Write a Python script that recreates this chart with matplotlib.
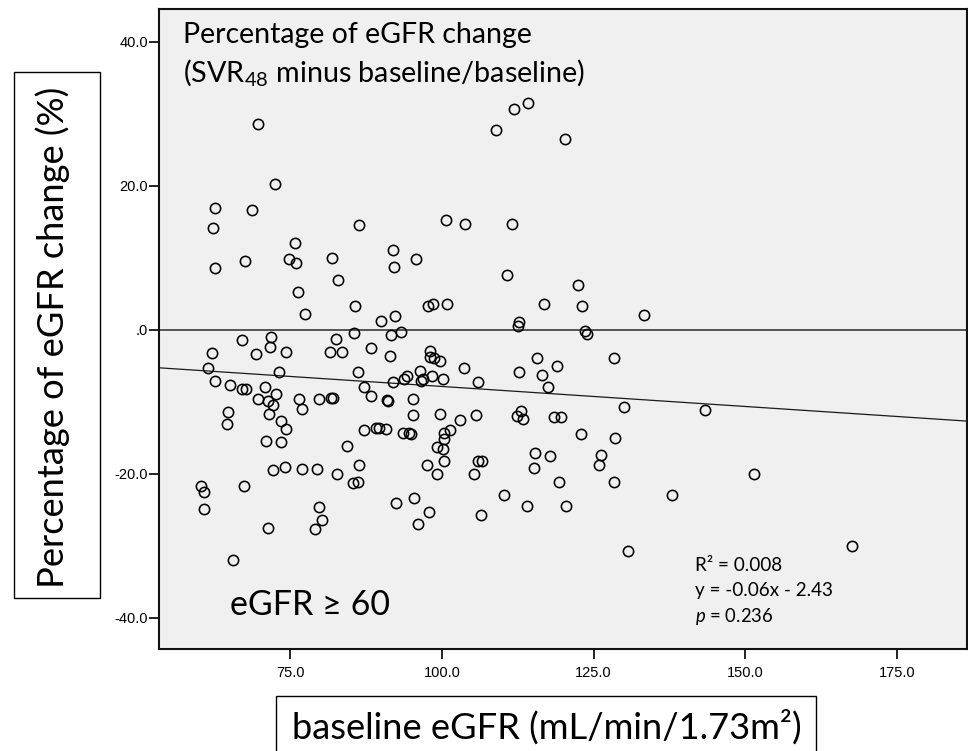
import matplotlib
matplotlib.use('Agg')
import matplotlib.pyplot as plt
from matplotlib.patches import Rectangle
import numpy as np

# ---------------- data ----------------
baseline_egfr = [
    69.7, 72.4, 62.5, 62.3, 62.5, 68.6, 67.6, 75.8, 74.7, 76.0,
    76.2, 77.4, 81.9, 82.8, 86.4, 85.6, 89.9, 92.3, 92.0, 92.1,
    95.7, 100.7, 103.8, 97.7, 98.6, 100.8, 108.9, 111.8, 114.1, 111.6,
    110.7, 116.9, 112.7, 112.5, 120.2, 122.4, 123.1, 133.3, 123.5, 123.9,
    85.5, 91.6, 93.3, 67.0, 71.8, 82.5,
    62.1, 61.4, 62.5, 65.0, 67.0, 67.7, 69.4, 71.6, 74.3, 70.8,
    73.1, 72.7, 69.7, 71.3, 72.1, 71.5, 73.5, 74.3, 64.7, 64.5,
    71.0, 73.5, 60.2, 60.7, 60.7, 67.3, 65.6, 71.4, 72.2, 74.2,
    76.9, 76.5, 76.9, 79.4, 79.7, 81.7, 82.0, 81.6, 83.6, 79.7,
    80.3, 79.0, 82.7, 84.3, 86.4, 85.3, 86.1, 86.1, 87.1, 88.3,
    88.3, 87.2, 89.2, 89.6, 90.7, 91.0, 91.1, 91.5, 91.9, 93.8,
    94.2, 93.5, 94.6, 94.9, 92.4, 95.4, 96.1, 97.9, 95.2, 95.3,
    96.4, 96.5, 96.9, 98.0, 98.1, 98.7, 99.6, 98.4, 100.1, 103.6,
    105.9, 99.7, 103.0, 101.4, 100.4, 100.3, 99.1, 100.2, 100.4, 97.5,
    99.1, 105.6, 105.9, 106.6, 105.3, 106.5, 110.3, 114.0, 112.7, 113.0,
    112.3, 113.3, 115.6, 116.5, 117.4, 119.0, 118.4, 119.6, 115.3, 115.2,
    117.8, 119.3, 120.5, 128.3, 130.0, 143.3, 122.9, 128.5, 126.2, 125.9,
    128.3, 137.9, 151.4, 130.6, 167.6,
]
pct_change = [
    28.6, 20.3, 16.85, 14.1, 8.5, 16.6, 9.6, 12.1, 9.8, 9.3,
    5.2, 2.2, 10.0, 6.9, 14.6, 3.3, 1.2, 1.9, 11.1, 8.7,
    9.8, 15.2, 14.7, 3.3, 3.6, 3.55, 27.7, 30.7, 31.5, 14.7,
    7.6, 3.6, 1.1, 0.5, 26.5, 6.2, 3.3, 2.1, -0.2, -0.6,
    -0.5, -0.7, -0.3, -1.4, -1.0, -1.3,
    -3.2, -5.3, -7.1, -7.7, -8.3, -8.3, -3.4, -2.4, -3.1, -8.0,
    -5.9, -8.9, -9.6, -9.9, -10.5, -11.7, -12.7, -13.8, -11.5, -13.1,
    -15.5, -15.6, -21.7, -22.5, -24.9, -21.7, -32.0, -27.6, -19.5, -19.1,
    -19.3, -9.7, -11.0, -19.3, -9.6, -9.5, -9.5, -3.1, -3.1, -24.6,
    -26.5, -27.7, -20.0, -16.1, -18.8, -21.3, -21.1, -5.9, -8.0, -9.2,
    -2.5, -13.9, -13.6, -13.6, -13.85, -9.8, -9.9, -3.7, -7.3, -6.9,
    -6.5, -14.4, -14.3, -14.5, -24.1, -23.4, -27.0, -25.3, -9.6, -11.8,
    -5.7, -7.2, -6.8, -2.9, -3.8, -4.0, -4.4, -6.4, -6.9, -5.3,
    -7.3, -11.7, -12.6, -13.9, -14.4, -15.2, -16.3, -16.6, -18.2, -18.8,
    -20.1, -11.9, -18.2, -18.3, -20.1, -25.7, -22.9, -24.5, -5.9, -11.3,
    -12.0, -12.4, -4.0, -6.3, -8.0, -5.0, -12.1, -12.1, -17.2, -19.2,
    -17.5, -21.1, -24.5, -4.0, -10.7, -11.2, -14.45, -15.1, -17.45, -18.8,
    -21.1, -23.0, -20.0, -30.8, -30.1,
]
fit_slope = -0.0556
fit_intercept = -2.33

x_ticks = [75, 100, 125, 150, 175]
x_tick_labels = ['75.0', '100.0', '125.0', '150.0', '175.0']
y_ticks = [-40, -20, 0, 20, 40]
y_tick_labels = ['-40.0', '-20.0', '.0', '20.0', '40.0']

title_line1 = 'Percentage of eGFR change'
title_line2 = '(SVR$_{48}$ minus baseline/baseline)'
group_label = 'eGFR \u2265 60'
stat_lines = ['R\u00b2 = 0.008', 'y = -0.06x - 2.43', '$p$ = 0.236']
x_label = 'baseline eGFR (mL/min/1.73m\u00b2)'
y_label = 'Percentage of eGFR change (%)'

# ---------------- figure ----------------
plt.rcParams['mathtext.fontset'] = 'custom'
plt.rcParams['mathtext.rm'] = 'Lato'
plt.rcParams['mathtext.it'] = 'Lato:italic'
plt.rcParams['mathtext.bf'] = 'Lato:bold'

W, H = 968, 751
fig = plt.figure(figsize=(W / 100, H / 100), dpi=100)
fig.patch.set_facecolor('white')


def fx(px):
    return px / W


def fy(py):
    return 1 - py / H


ax_l, ax_r, ax_t, ax_b = 159.3, 966.7, 9.3, 649.3
ax = fig.add_axes([fx(ax_l), fy(ax_b), (ax_r - ax_l) / W, (ax_b - ax_t) / H])
ax.set_facecolor('#f0f0f0')

xlim = (53.4, 186.5)
ylim = (-44.4, 44.5)

ax.axhline(0, color='#2a2a2a', lw=1.1, zorder=2)
xx = np.array(xlim)
ax.plot(xx, fit_slope * xx + fit_intercept, color='#1a1a1a', lw=0.9, zorder=2)
ax.plot(baseline_egfr, pct_change, linestyle='none', marker='o', ms=7.4,
        mfc='none', mec='black', mew=1.15, zorder=3)

ax.set_xlim(*xlim)
ax.set_ylim(*ylim)
ax.set_xticks(x_ticks)
ax.set_xticklabels(x_tick_labels)
ax.set_yticks(y_ticks)
ax.set_yticklabels(y_tick_labels)
ax.tick_params(axis='both', direction='out', length=7.5, width=1.2,
               labelsize=10.5, colors='black')
ax.tick_params(axis='x', pad=4.5)
ax.tick_params(axis='y', pad=0.8)
for lab in ax.get_xticklabels() + ax.get_yticklabels():
    lab.set_family(['Liberation Sans', 'DejaVu Sans'])
for sp in ax.spines.values():
    sp.set_linewidth(1.5)
    sp.set_color('#111111')

renderer = fig.canvas.get_renderer()
FAM = ['Lato', 'DejaVu Sans']


def fit_text(x_px, y_px, s, target, rotation=0, size=None, **kw):
    t = fig.text(fx(x_px), fy(y_px), s, fontsize=20, family=FAM,
                 ha='left', va='baseline', rotation=rotation,
                 rotation_mode='anchor', color='black', **kw)
    if size is not None:
        t.set_fontsize(size)
        return t
    bb = t.get_window_extent(renderer)
    w = bb.width if rotation == 0 else bb.height
    t.set_fontsize(20 * target / w)
    return t


fit_text(183, 43, title_line1, 350)
fit_text(183, 81, title_line2, 402)
fit_text(230, 615, group_label, 160)
fit_text(695, 571, stat_lines[0], 87)
fit_text(695, 596, stat_lines[1], 138)
fit_text(695, 622, stat_lines[2], 78)
xl = fit_text(292, 739, x_label, 511)
yl = fit_text(64, 588, y_label, 0, rotation=90, size=xl.get_fontsize())

# label boxes
fig.patches.append(Rectangle((fx(276), fy(770)), (816 - 276) / W, (770 - 695.5) / H,
                             transform=fig.transFigure, fill=False,
                             edgecolor='black', lw=1.0))
fig.patches.append(Rectangle((fx(14), fy(598)), (100 - 14) / W, (598 - 72) / H,
                             transform=fig.transFigure, fill=False,
                             edgecolor='black', lw=1.0))

fig.savefig('out.png', dpi=100, facecolor='white')
